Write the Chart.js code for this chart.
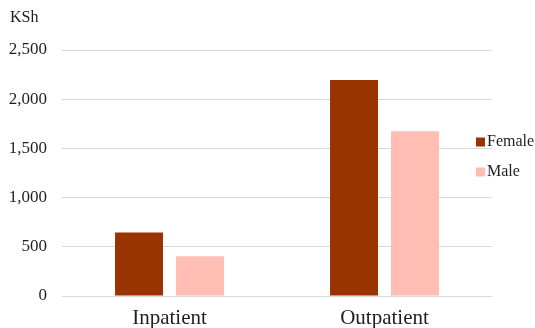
<!DOCTYPE html>
<html>
<head>
<meta charset="utf-8">
<script src="https://cdn.jsdelivr.net/npm/chart.js@4/dist/chart.umd.min.js"></script>
<style>
  html, body { margin: 0; padding: 0; background: #fff; }
  #wrap { width: 535px; height: 328px; position: relative; }
</style>
</head>
<body>
<div id="wrap"><canvas id="c" width="535" height="328"></canvas></div>
<script>
// Average health spending per person, by visit type and sex
const categories = ['Inpatient', 'Outpatient'];
const femaleValues = [645, 2195];
const maleValues = [405, 1675];
const seriesNames = ['Female', 'Male'];
const unitLabel = 'KSh';

const FONT = '"Liberation Serif", "Times New Roman", serif';
const TEXT = '#1f1f1f';

// Unit label above the value axis and a small legend on the right
const decorations = {
  id: 'decorations',
  afterDraw(chart) {
    const ctx = chart.ctx;
    ctx.save();
    ctx.fillStyle = TEXT;
    ctx.font = '16px ' + FONT;
    ctx.textAlign = 'left';
    ctx.textBaseline = 'middle';
    ctx.fillText(unitLabel, 10, 18);

    const startY = 142, step = 30;
    chart.data.datasets.forEach((ds, i) => {
      const y = startY + i * step;
      ctx.fillStyle = ds.backgroundColor;
      ctx.fillRect(476, y - 4.5, 9, 9);
      ctx.fillStyle = TEXT;
      ctx.fillText(ds.label, 487, y);
    });
    ctx.restore();
  }
};

new Chart(document.getElementById('c'), {
  type: 'bar',
  data: {
    labels: categories,
    datasets: [
      { label: seriesNames[0], data: femaleValues, backgroundColor: '#993300',
        categoryPercentage: 0.567, barPercentage: 0.787 },
      { label: seriesNames[1], data: maleValues, backgroundColor: '#ffbdb4',
        categoryPercentage: 0.567, barPercentage: 0.787 }
    ]
  },
  options: {
    responsive: false,
    animation: false,
    devicePixelRatio: 1,
    layout: { padding: { left: 0, right: 43, top: 50, bottom: 0 } },
    plugins: {
      legend: { display: false },
      tooltip: { enabled: false }
    },
    scales: {
      x: {
        grid: { display: false },
        border: { display: false },
        ticks: { color: TEXT, font: { family: FONT, size: 21 }, padding: 2 },
        afterFit(scale) { scale.height = 32; }
      },
      y: {
        min: 0,
        max: 2500,
        ticks: {
          stepSize: 500,
          color: TEXT,
          padding: 15,
          font: { family: FONT, size: 17 },
          callback: v => v.toLocaleString('en-US')
        },
        grid: { color: '#d9d9d9', lineWidth: 1, drawTicks: false },
        border: { display: false },
        afterFit(scale) { scale.width = 62; }
      }
    }
  },
  plugins: [decorations]
});
</script>
</body>
</html>
